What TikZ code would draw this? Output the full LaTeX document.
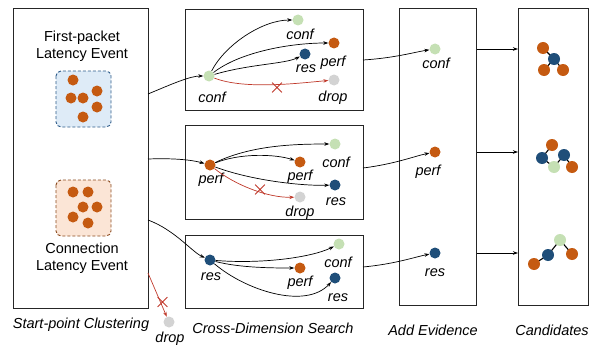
\documentclass[tikz,border=0pt]{standalone}
\usepackage{fontspec}
\setmainfont{Liberation Sans}
\usetikzlibrary{arrows.meta,shapes.misc}

\definecolor{dotorange}{HTML}{C55A11}
\definecolor{dotblue}{HTML}{1F4E79}
\definecolor{dotgreen}{HTML}{C5E0B4}
\definecolor{dotgrey}{HTML}{D3D3D3}
\definecolor{fillblue}{HTML}{DEEBF7}
\definecolor{lineblue}{HTML}{2E5C8A}
\definecolor{fillorange}{HTML}{FBE5D6}
\definecolor{lineorange}{HTML}{8B4A1E}
\definecolor{dropred}{HTML}{C0392B}

\tikzset{
  panel/.style={draw=black!85, line width=1.2pt, fill=white},
  cluster/.style={line width=0.9pt, densely dashed, rounded corners=5pt},
  dot/.style={circle, inner sep=0pt, minimum size=11pt},
  cdot/.style={circle, inner sep=0pt, minimum size=12pt},
  orangedot/.style={dot, fill=dotorange},
  bluedot/.style={dot, fill=dotblue},
  greendot/.style={dot, fill=dotgreen},
  greydot/.style={dot, fill=dotgrey},
  txt/.style={font=\fontsize{14.5}{17}\selectfont, inner sep=0pt, align=center},
  lab/.style={font=\fontsize{14.5}{17}\selectfont\itshape, inner sep=0pt},
  link/.style={line width=0.7pt, black, -{Stealth[length=5pt,width=3.5pt]}},
  redlink/.style={line width=0.7pt, dropred, -{Stealth[length=5pt,width=3.5pt]}},
  xmark/.style={cross out, draw=dropred, line width=0.8pt, minimum size=9pt, inner sep=0pt},
  bond/.style={line width=1.1pt, black}
}

\begin{document}
\begin{tikzpicture}[x=1pt, y=-1pt]
\useasboundingbox (0,0) rectangle (593,345);

% ---------- panels ----------
\node[panel, minimum width=135pt, minimum height=300pt, anchor=north west] (L) at (13,8) {};
\node[panel, minimum width=178pt, minimum height=101pt, anchor=north west] (M1) at (185,9) {};
\node[panel, minimum width=178pt, minimum height=94pt, anchor=north west] (M2) at (185,125) {};
\node[panel, minimum width=178pt, minimum height=73pt, anchor=north west] (M3) at (185,235) {};
\node[panel, minimum width=77pt, minimum height=297pt, anchor=north west] (AE) at (399,8) {};
\node[panel, minimum width=70pt, minimum height=297pt, anchor=north west] (CA) at (518,8) {};

% ---------- start-point clustering ----------
\node[txt] (t1) at (82,46.5) {First-packet\\Latency Event};
\node[txt] (t2) at (82,258.5) {Connection\\Latency Event};
\draw[cluster, draw=lineblue, fill=fillblue] (56,71) rectangle (111,127);
\draw[cluster, draw=lineorange, fill=fillorange] (56,180) rectangle (111,236);
\foreach \n/\x/\y in {a/73/80, b/71/98, c/83/98, d/97/91, e/97/107, f/83/117}
  \node[orangedot] (fp\n) at (\x,\y) {};
\foreach \n/\x/\y in {a/73/192, b/88/192, c/83/207, d/97/207, e/73/217, f/88/223}
  \node[orangedot] (cn\n) at (\x,\y) {};

\coordinate (s1) at (148,94);
\coordinate (s2) at (148,159);
\coordinate (s3) at (148,220);
\coordinate (s4) at (148,273);

\node[greydot] (d0) at (169,322) {};
\node[lab] (d0l) at (170,339) {drop};
\draw[redlink] (s4) -- (d0);
\node[xmark] (x0) at (162.5,302) {};

% ---------- cross-dimension search: conf ----------
\node[greendot] (c1s) at (209,76) {};
\node[greendot] (c1c) at (298,20) {};
\node[orangedot] (c1p) at (334,43) {};
\node[bluedot] (c1r) at (305,54) {};
\node[greydot] (c1d) at (334,80) {};
\node[lab] at (212,97) {conf};
\node[lab] at (300,34) {conf};
\node[lab] at (333,63) {perf};
\node[lab] at (306,69) {res};
\node[lab] at (333,98) {drop};
\draw[link] (s1) .. controls (172,84) and (190,76) .. (c1s);
\draw[link] (c1s) .. controls (225,45) and (262,20) .. (c1c);
\draw[link] (c1s) .. controls (240,52) and (290,43) .. (c1p);
\draw[link] (c1s) .. controls (250,64) and (285,64) .. (c1r);
\draw[redlink] (c1s) .. controls (245,90) and (300,83) .. (c1d);
\node[xmark] (x1) at (277,87.5) {};

% ---------- cross-dimension search: perf ----------
\node[orangedot] (p2s) at (210,165) {};
\node[greendot] (p2c) at (335,144) {};
\node[orangedot] (p2p) at (300,162) {};
\node[bluedot] (p2r) at (335,185) {};
\node[greydot] (p2d) at (300,197) {};
\node[lab] at (211,180) {perf};
\node[lab] at (336,162) {conf};
\node[lab] at (300,177) {perf};
\node[lab] at (336,202) {res};
\node[lab] at (300,213) {drop};
\draw[link] (s2) .. controls (175,158) and (192,160) .. (p2s);
\draw[link] (p2s) .. controls (250,146) and (290,144) .. (p2c);
\draw[link] (p2s) .. controls (240,153) and (275,154) .. (p2p);
\draw[link] (p2s) .. controls (250,180) and (300,186) .. (p2r);
\draw[redlink] (p2s) .. controls (235,185) and (268,198) .. (p2d);
\node[xmark] (x2) at (260,189.5) {};

% ---------- cross-dimension search: res ----------
\node[bluedot] (r3s) at (210,260) {};
\node[greendot] (r3c) at (339,244) {};
\node[orangedot] (r3p) at (300,268) {};
\node[bluedot] (r3r) at (335,278) {};
\node[lab] at (211,277) {res};
\node[lab] at (338,262) {conf};
\node[lab] at (300,283) {perf};
\node[lab] at (338,298) {res};
\draw[link] (s3) .. controls (175,230) and (192,252) .. (r3s);
\draw[link] (r3s) .. controls (260,264) and (310,258) .. (r3c);
\draw[link] (r3s) .. controls (240,268) and (275,268) .. (r3p);
\draw[link] (r3s) .. controls (245,290) and (305,310) .. (r3r);

% ---------- add evidence ----------
\node[greendot] (ae1) at (435,49) {};
\node[orangedot] (ae2) at (435,152) {};
\node[bluedot] (ae3) at (435,253) {};
\node[lab] at (436,63) {conf};
\node[lab] at (428,172) {perf};
\node[lab] at (435,273) {res};
\coordinate (o1) at (363,60);
\coordinate (o2) at (363,168);
\coordinate (o3) at (363,267);
\draw[link] (o1) .. controls (395,58) and (415,52) .. (ae1);
\draw[link] (o2) .. controls (395,164) and (415,156) .. (ae2);
\draw[link] (o3) .. controls (395,264) and (415,257) .. (ae3);

\draw[link] (AE.east |- ae1) -- (CA.west |- ae1);
\draw[link] (AE.east |- ae2) -- (CA.west |- ae2);
\draw[link] (AE.east |- ae3) -- (CA.west |- ae3);

% ---------- candidates ----------
\coordinate (g1a) at (543,48);
\coordinate (g1b) at (554,59);
\coordinate (g1c) at (544,70);
\coordinate (g1d) at (563,70);
\draw[bond] (g1b) -- (g1a) (g1b) -- (g1c) (g1b) -- (g1d);
\node[cdot, fill=dotorange] at (g1a) {};
\node[cdot, fill=dotblue] at (g1b) {};
\node[cdot, fill=dotorange] at (g1c) {};
\node[cdot, fill=dotorange] at (g1d) {};

\coordinate (g2a) at (552,145);
\coordinate (g2b) at (542,158);
\coordinate (g2c) at (564,155);
\coordinate (g2g) at (554,167);
\coordinate (g2e) at (572,167);
\draw[bond] (g2a) -- (g2b) -- (g2g) -- (g2c) -- (g2e);
\node[cdot, fill=dotorange] at (g2a) {};
\node[cdot, fill=dotblue] at (g2b) {};
\node[cdot, fill=dotblue] at (g2c) {};
\node[cdot, fill=dotgreen] at (g2g) {};
\node[cdot, fill=dotorange] at (g2e) {};

\coordinate (g3g) at (560,240);
\coordinate (g3b) at (548,255);
\coordinate (g3o) at (572,254);
\coordinate (g3l) at (534,264);
\draw[bond] (g3l) -- (g3b) -- (g3g) -- (g3o);
\node[cdot, fill=dotgreen] at (g3g) {};
\node[cdot, fill=dotblue] at (g3b) {};
\node[cdot, fill=dotorange] at (g3o) {};
\node[cdot, fill=dotorange] at (g3l) {};

% ---------- captions ----------
\node[lab] (cap1) at (81,325) {Start-point Clustering};
\node[lab] (cap2) at (273,328) {Cross-Dimension Search};
\node[lab] (cap3) at (433,330) {Add Evidence};
\node[lab] (cap4) at (552,330) {Candidates};
\end{tikzpicture}
\end{document}
